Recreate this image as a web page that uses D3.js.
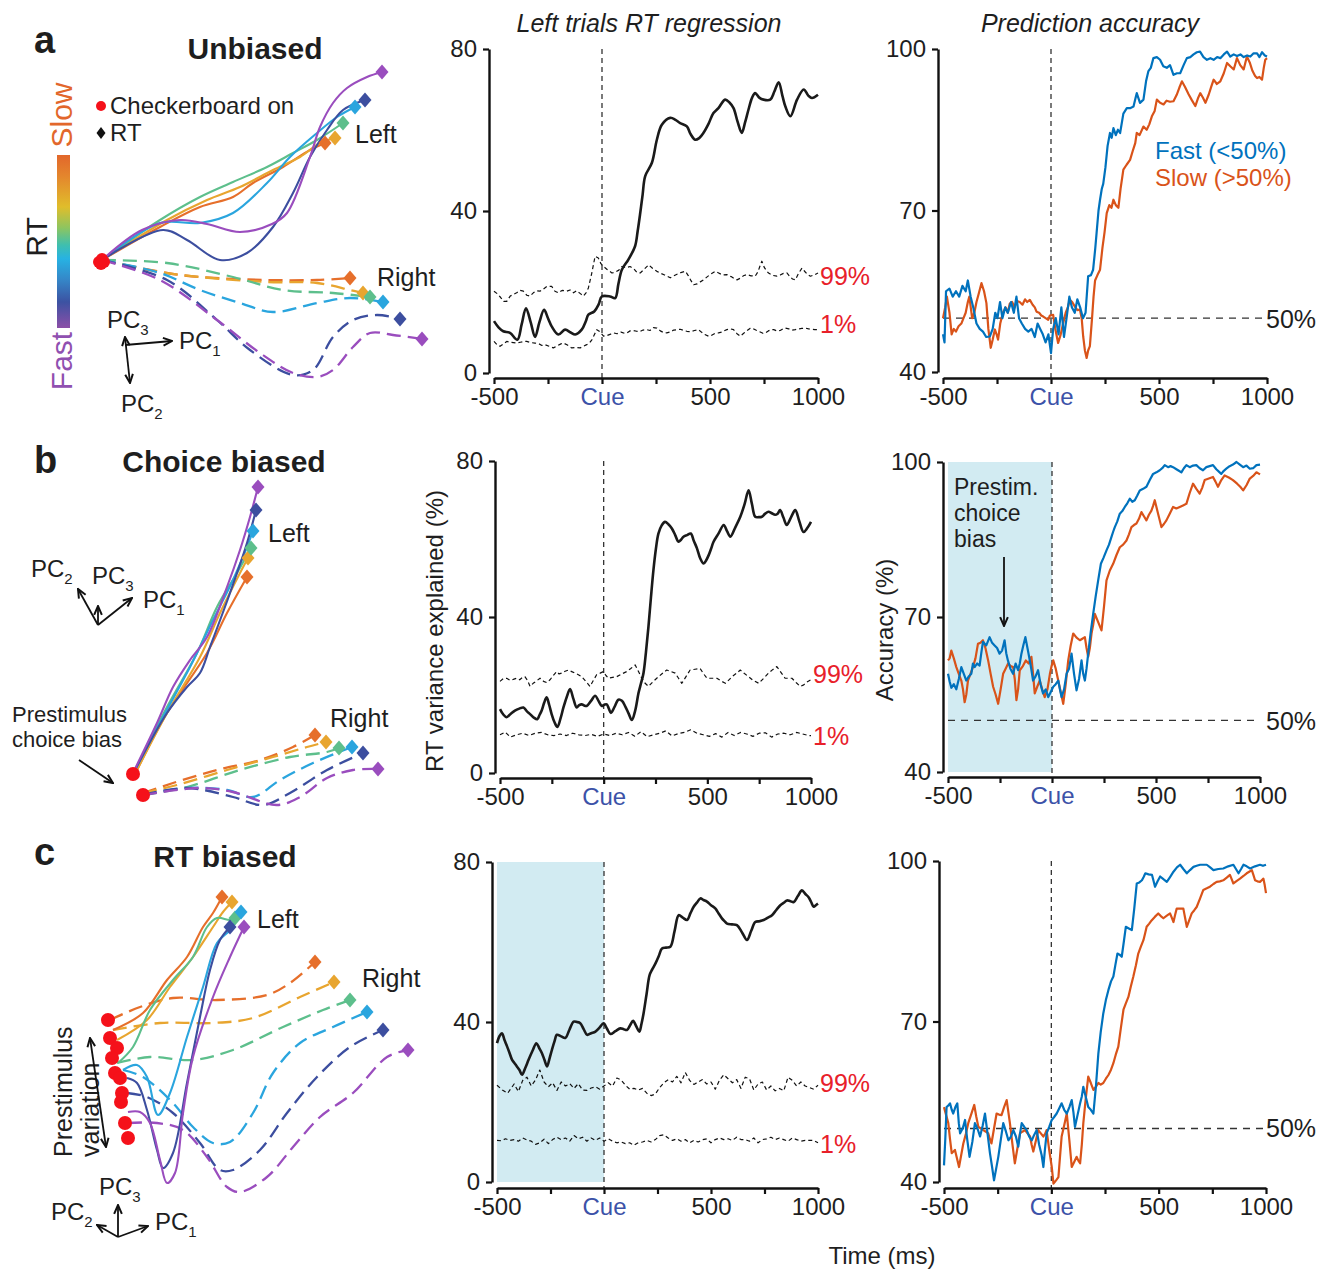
<!DOCTYPE html>
<html><head><meta charset="utf-8">
<script src="https://cdn.jsdelivr.net/npm/d3@7/dist/d3.min.js"></script>
<style>body{margin:0;background:#fff} text{font-family:"Liberation Sans",Arial,Helvetica,sans-serif;fill:#1e1e1e}</style>
</head><body><script>
// ---------------- DATA ----------------
const xTickVals = [-500,-250,0,250,500,750,1000];
const xTickLabels = ['-500','','Cue','','500','','1000'];
const regTicks = [0,40,80];
const accTicks = [40,70,100];
const rtColors = ['#e66f2b','#e8a52f','#5dbf8c','#2aa5de','#3c4e9f','#9a4dbe']; // slow -> fast

// panel a middle (RT regression, % variance)
const regA = [[-500,12.8],[-478,11.2],[-457,10.3],[-426,9.9],[-392,8.2],[-372,12],[-352,16],[-330,12.5],[-310,8.9],[-290,12.5],[-268,15.6],[-250,13.5],[-233,11.5],[-202,9.5],[-171,10.7],[-145,10],[-124,9.5],[-94,10.7],[-75,12.8],[-63,14.4],[-36,15.2],[-15,17],[-1,18.9],[37,18.9],[61,18.5],[76,22],[92,25.5],[122,28],[153,31.3],[165,35],[177,39.5],[188,44],[200,48.6],[231,51.9],[254,57.6],[277,61.3],[316,63],[340,62.5],[362,61.7],[393,60.9],[410,59],[431,57.6],[450,58],[470,59.3],[493,61.5],[516,64.2],[539,65.4],[570,67.5],[590,66.8],[609,65.4],[628,62],[647,59.3],[663,62],[678,65],[695,68],[709,69.1],[728,68],[748,67.5],[779,67.5],[798,69.5],[818,71.8],[835,68.5],[849,65.8],[872,63.4],[903,67.5],[934,70],[955,68.5],[972,67.9],[1000,68.7]];
const thrHiA = [[-500,20.2],[-483,19.5],[-470,18.7],[-455,17.7],[-441,17.7],[-425,19],[-410,19.4],[-395,19.8],[-380,20.4],[-364,20.2],[-348,19.2],[-333,19],[-318,19.8],[-302,20.3],[-287,20.2],[-272,20.7],[-255,21.4],[-233,21.4],[-218,20.2],[-202,19.8],[-185,20.4],[-163,20.2],[-148,20.5],[-132,19.8],[-118,20.3],[-100,19.6],[-86,19],[-74,19.8],[-63,21],[-48,24.5],[-32,28.8],[-17,28.4],[-5,27],[7,26.3],[25,25.5],[46,24.7],[62,24.9],[78,25.4],[92,26.3],[110,26],[130,26.3],[148,25.7],[162,24.8],[177,24.7],[195,25.6],[216,26.7],[235,25.8],[254,25.1],[272,24.6],[290,24.2],[316,23.5],[340,24.2],[365,24.8],[386,25.1],[400,24],[412,22.8],[424,21.8],[440,22],[455,22.5],[470,23],[488,23.8],[506,24.5],[524,25.1],[540,24.7],[558,24.2],[578,24.3],[598,23.8],[610,23.4],[625,23],[640,23.4],[655,24],[671,24.3],[690,24],[709,23.9],[722,25],[732,26.5],[740,27.6],[752,26],[762,25.2],[771,24.7],[790,24.1],[810,23.9],[825,24.2],[840,24.6],[856,24.7],[870,23.8],[882,23.2],[895,23],[910,24.6],[926,25.9],[940,25],[952,24.3],[965,23.9],[982,24.2],[1000,24.7]];
const thrLoA = [[-500,7.8],[-486,7],[-472,6.6],[-456,7.2],[-441,7.8],[-425,7.6],[-410,7.5],[-395,7.4],[-378,7.6],[-360,7.8],[-349,7.8],[-330,7.5],[-310,7.4],[-292,7.2],[-278,6.8],[-264,7],[-245,6.6],[-225,6.2],[-205,6.8],[-190,7.2],[-179,7.4],[-160,6.9],[-140,6.2],[-120,6.3],[-101,6.2],[-85,6.6],[-71,7],[-58,7.4],[-47,8.2],[-35,9.5],[-24,10.7],[-10,10.2],[7,9.1],[25,9.3],[40,9.6],[53,9.9],[70,9.7],[88,10.1],[105,9.8],[115,9.9],[130,10.4],[145,10.5],[161,10.3],[175,10.2],[190,10.6],[207,10.7],[222,10.5],[238,11.2],[254,11.1],[270,10.4],[285,10],[300,9.9],[318,10.2],[332,10.6],[347,10.7],[362,10.8],[378,10.5],[393,10.3],[410,10.2],[428,10.5],[447,10.7],[460,10.1],[476,9.5],[493,9.1],[508,9.3],[524,9.8],[539,9.9],[555,10.1],[565,10.4],[578,10.7],[594,10.9],[609,10.7],[625,9.7],[640,9.1],[656,9.8],[672,10.5],[685,11],[694,11.1],[712,10.6],[730,10.2],[745,9.8],[756,9.9],[770,10.4],[784,10.7],[795,10.7],[810,10.4],[825,10.5],[838,10.9],[849,11.1],[865,10.9],[880,10.6],[895,10.7],[910,10.9],[925,11],[941,11.1],[957,10.9],[972,10.8],[985,10.7],[1000,10.7]];

// panel b middle
const regB = [[-500,16.4],[-484,15],[-468,14.3],[-448,15.2],[-428,16],[-407,16.5],[-387,16.8],[-370,15.8],[-355,15.1],[-337,14.2],[-320,13.8],[-310,14.8],[-299,16],[-287,18],[-275,19.4],[-263,17.5],[-251,15.1],[-237,13],[-223,11.8],[-208,14],[-194,16.8],[-178,19.5],[-162,21.5],[-146,19],[-130,16.8],[-118,17.4],[-106,17.6],[-94,17.3],[-82,17.2],[-61,18.5],[-41,19.8],[-25,18.5],[-9,17.2],[3,17.5],[15,17.6],[25,16.5],[35,15.4],[53,17],[71,18.8],[88,18.5],[104,17.1],[120,15.3],[136,13.6],[152,16],[168,20.5],[180,23],[192,25.6],[204,31],[216,37.5],[228,45],[240,52],[252,57.5],[264,61.4],[280,63.5],[296,64.4],[312,63.8],[329,62.7],[345,61],[361,59.3],[373,59.8],[385,60.6],[402,61],[420,61.4],[435,59.5],[450,57.6],[466,55],[482,53.7],[494,54.5],[506,55.8],[518,57.5],[530,59.3],[555,61.5],[579,63.6],[595,62],[611,60.6],[635,63],[659,65.7],[680,69],[699,72.5],[715,69],[731,65.7],[747,65.6],[763,65.7],[779,66.5],[795,67],[811,66.6],[827,66.2],[839,66.5],[851,67.4],[867,65.5],[883,63.6],[903,65.5],[924,67.4],[944,64.5],[964,61.8],[982,62.8],[1000,64.4]];
const thrHiB = [[-500,23.5],[-484,24.2],[-468,24.3],[-452,23.8],[-436,24],[-420,24.3],[-405,23.9],[-392,24.5],[-380,24.7],[-368,23.8],[-355,22.2],[-340,23],[-324,23.6],[-307,24.3],[-290,23.5],[-275,23.2],[-259,23.9],[-243,25],[-227,26],[-215,25.4],[-203,25.6],[-186,26.1],[-170,26.4],[-154,26],[-138,25.6],[-122,25.2],[-106,24.7],[-86,23.5],[-66,22.2],[-50,23.7],[-34,25.2],[-17,25.6],[-1,26],[11,25],[23,24.3],[43,24.5],[63,24.7],[87,25.4],[111,26],[131,26.8],[152,27.7],[168,26],[184,24.3],[200,23],[216,22.2],[236,23.3],[256,24.3],[280,25.4],[304,26.4],[325,26],[345,25.6],[361,24.3],[377,23],[397,24.7],[417,26.4],[441,26.6],[465,26.8],[481,25.5],[498,24.3],[522,24.3],[546,24.3],[566,23.6],[587,23],[603,23.8],[619,24.7],[639,25.5],[659,26.4],[679,25.5],[699,24.7],[719,23.8],[748,23],[772,24.3],[795,25.6],[815,26.5],[835,27.3],[855,25.8],[875,24.3],[891,24.3],[908,24.3],[928,23.2],[948,22.2],[965,22.6],[980,23.3],[1000,23.9]];
const thrLoB = [[-500,9.8],[-475,10.5],[-450,9.2],[-420,9.8],[-390,10.2],[-360,9.6],[-330,10.2],[-300,10.4],[-270,9.8],[-240,9.6],[-210,10.0],[-180,9.6],[-150,10.2],[-120,9.8],[-90,9.6],[-60,9.9],[-30,9.4],[0,10.0],[30,9.6],[60,10.2],[90,9.8],[120,10.4],[150,9.4],[180,10.6],[210,9.3],[240,9.8],[270,10.2],[300,10.8],[330,9.5],[360,10.1],[390,10.4],[420,11.1],[450,10.2],[480,9.8],[510,9.4],[540,10.1],[570,9.2],[600,10.4],[630,9.6],[660,10.4],[690,10.0],[720,9.4],[750,10.2],[780,10.3],[810,9.2],[840,10.0],[870,10.2],[900,9.8],[930,10.4],[960,10.0],[990,9.6],[1000,9.6]];

// panel c middle
const regC = [[-500,34.7],[-488,36.5],[-477,37.2],[-465,35.5],[-453,33.9],[-441,32.2],[-430,30.6],[-418,29.7],[-407,28.9],[-395,28],[-383,26.8],[-368,28.5],[-352,30.6],[-334,32.8],[-316,34.7],[-303,33.5],[-290,32.2],[-278,30.5],[-266,28.9],[-255,30.8],[-243,33.1],[-231,35.2],[-220,36.8],[-200,36.4],[-181,36],[-162,38],[-142,40.1],[-126,40],[-111,39.7],[-95,38.2],[-79,36.8],[-60,37.2],[-40,37.6],[-21,38.6],[-2,39.7],[14,38.3],[30,37],[53,37.7],[76,38.4],[92,38.2],[107,38],[122,39.2],[136,40.3],[150,39],[165,37.6],[175,39.5],[185,42.2],[199,47],[213,51.7],[226,53.2],[240,54.6],[256,56.5],[271,58.4],[290,58.6],[310,58.8],[330,62.8],[349,66.7],[368,66.1],[388,65.5],[404,67.2],[419,68.8],[435,69.9],[450,70.9],[465,70.5],[481,70.1],[500,69.2],[520,68.4],[535,67.2],[551,65.9],[563,65.2],[575,64.6],[598,64.4],[621,64.2],[645,62.4],[668,60.5],[688,62.8],[707,65],[727,65.2],[746,65.5],[766,66.1],[785,66.7],[805,68],[824,69.2],[840,69.8],[855,70.4],[871,70.2],[887,70],[906,71.5],[925,72.9],[941,72],[956,71.2],[968,70],[980,68.8],[990,69.2],[1000,69.6]];
const thrHiC = [[-500,24.2],[-475,23.0],[-450,22.2],[-420,24.5],[-400,22.6],[-380,25.4],[-360,26.2],[-340,24.0],[-320,25.5],[-300,28.0],[-280,25.0],[-260,23.8],[-240,24.8],[-220,22.9],[-200,25.0],[-180,24.0],[-160,24.6],[-140,23.4],[-120,24.6],[-100,23.0],[-80,22.9],[-60,23.5],[-40,23.8],[-20,23.2],[0,24.0],[20,24.8],[40,24.0],[60,26.0],[80,25.5],[100,24.2],[120,23.2],[140,23.4],[160,23.0],[180,23.4],[200,22.2],[220,21.6],[240,22.0],[260,23.6],[280,24.8],[300,25.6],[320,25.0],[340,26.4],[360,24.8],[380,27.4],[400,25.4],[420,24.4],[440,25.0],[460,25.6],[480,24.5],[500,25.0],[520,23.2],[540,25.5],[560,26.8],[580,25.8],[600,24.8],[620,25.6],[640,23.4],[660,26.2],[680,25.8],[700,23.0],[720,24.5],[740,25.0],[760,23.0],[780,24.0],[800,22.8],[820,23.4],[840,22.8],[860,26.2],[880,25.4],[900,24.0],[920,25.0],[940,24.0],[960,23.6],[980,23.2],[1000,24.2]];
const thrLoC = [[-500,10.4],[-480,10.3],[-460,10.8],[-440,10.4],[-420,10.6],[-400,10.2],[-380,11.0],[-360,10.5],[-340,10.2],[-320,9.4],[-300,9.8],[-280,10.7],[-260,9.6],[-240,10.6],[-220,11.2],[-200,10.6],[-180,11.0],[-160,10.2],[-140,11.6],[-120,10.8],[-100,11.2],[-80,10.2],[-60,11.0],[-40,10.4],[-20,11.0],[0,10.2],[20,10.8],[40,10.2],[60,9.8],[80,10.0],[100,9.6],[120,9.8],[140,9.2],[160,9.8],[180,10.0],[200,10.4],[220,10.0],[240,10.6],[260,11.6],[280,11.8],[300,11.0],[320,10.4],[340,10.8],[360,10.2],[380,10.6],[400,9.8],[420,10.4],[440,10.0],[460,10.6],[480,10.8],[500,9.8],[520,10.6],[540,11.0],[560,10.6],[580,10.8],[600,10.4],[620,11.2],[640,10.6],[660,10.6],[680,10.2],[700,11.0],[720,9.8],[740,10.6],[760,10.8],[780,11.2],[800,10.6],[820,11.0],[840,10.6],[860,10.2],[880,11.0],[900,10.6],[920,10.2],[940,10.4],[960,10.4],[980,10.4],[1000,9.8]];

// prediction accuracy (%), fast (<50%) and slow (>50%) trials
const accFastA = [[-500,47],[-493,45.5],[-486,55],[-470,55.5],[-455,54],[-440,55],[-425,54],[-410,56],[-395,55],[-385,57],[-372,54],[-360,52],[-345,49],[-330,48],[-315,47.5],[-300,46.5],[-283,46.6],[-270,48],[-258,51],[-248,50],[-236,53],[-225,50],[-212,52],[-200,51],[-185,53],[-172,51],[-160,54],[-148,50],[-135,49],[-120,48],[-105,47.5],[-90,48],[-75,46.5],[-62,49],[-50,48],[-38,47],[-25,45.5],[-12,47],[0,43.5],[10,48],[22,50],[35,47],[48,52],[60,46.5],[72,50],[85,54],[97,52],[110,51],[122,53.5],[135,52],[148,50],[160,51],[172,57.8],[185,58],[195,59],[205,63],[211,65.8],[220,70],[227,72],[235,74],[242,75],[252,78],[262,82],[273,84.4],[281,83.5],[289,85.3],[300,84],[310,85],[320,84.4],[335,88],[351,89],[366,89],[382,89.3],[392,91],[397,91.8],[412,90],[428,90.6],[440,94],[451,95.9],[462,96.5],[474,98.3],[490,98.5],[505,98],[520,96.8],[536,96.5],[551,97],[567,95.2],[583,95.5],[598,95.5],[614,97],[629,98.3],[645,98.5],[660,99],[675,99.4],[690,99.5],[706,98.5],[722,98],[738,98.3],[753,98],[769,98.5],[784,98.3],[800,99],[815,99.5],[830,98.6],[846,99],[861,98.7],[877,99],[892,98.5],[908,98.8],[923,98.6],[938,99.2],[954,99.2],[965,98.5],[977,99.4],[990,98.8],[1000,98.6]];
const accSlowA = [[-500,50],[-490,52],[-482,54],[-470,51],[-460,47],[-450,48],[-440,47.5],[-428,48.5],[-415,49],[-405,50],[-395,51],[-385,53],[-378,54],[-365,50],[-355,51],[-345,53],[-335,54.5],[-322,56.5],[-310,55],[-299,52.8],[-290,48],[-279,44.5],[-270,46],[-260,47.9],[-252,47],[-245,46],[-235,49],[-222,51.1],[-210,52],[-200,51],[-191,52.7],[-180,53],[-168,52],[-158,53.2],[-145,53],[-132,52.5],[-120,53.5],[-110,53],[-98,53.4],[-85,52.5],[-75,52],[-67,51.2],[-55,51],[-45,50.5],[-36,50.3],[-25,50],[-13,49.7],[-5,50.5],[10,50.6],[20,48],[33,45.4],[45,47],[56,49],[68,51],[78,52],[87,53.4],[98,53],[110,52.2],[122,51.5],[134,51.6],[142,50],[149,46.6],[157,44],[165,42.6],[172,44],[180,44.8],[190,50],[197,54],[204,57],[215,58],[227,59],[238,63],[248,66],[258,69.5],[270,71],[280,70.5],[289,72],[300,71],[312,70.5],[322,74],[335,77.6],[350,78.5],[366,79.4],[378,81],[390,82.5],[397,84.4],[410,84],[428,85.6],[443,85],[455,86],[467,87.5],[480,88.5],[490,90.6],[505,90],[521,89.7],[535,90.4],[551,90.2],[567,90.3],[582,91.5],[594,92.8],[606,94],[620,93],[637,91.6],[652,90.5],[668,89.4],[680,90.8],[691,91.8],[703,91],[715,90],[730,91.5],[742,93],[753,94.3],[768,93.5],[784,94],[800,95.5],[815,97.4],[830,96.8],[846,96.2],[861,98.3],[876,97],[892,96.2],[907,98.6],[920,97.5],[932,96],[945,95],[954,94.6],[965,94.8],[977,94.3],[985,96.5],[992,98],[1000,98.3]];
const accFastB = [[-500,59],[-492,57.5],[-484,56.3],[-472,57],[-460,56],[-448,58],[-436,60.3],[-424,59],[-412,57.7],[-400,58.5],[-388,59],[-380,61],[-372,60.3],[-360,61],[-348,60.6],[-340,63],[-332,65.2],[-316,64.5],[-300,66.1],[-288,65],[-276,64.5],[-264,64],[-252,62.9],[-240,63.5],[-228,65.5],[-220,63],[-212,61.6],[-200,60],[-187,59],[-175,61],[-163,59.7],[-155,61],[-147,62.9],[-138,64.5],[-128,66.1],[-118,64],[-110,62.3],[-100,60],[-91,57.7],[-79,58.5],[-67,59.7],[-55,57],[-43,55.2],[-30,56],[-18,54.5],[-6,55.5],[6,56.5],[18,57],[30,57.7],[38,56],[46,54.5],[58,56],[70,59],[82,60],[94,62.9],[106,59],[118,55.8],[130,58],[142,61.6],[150,59],[158,57.7],[166,60],[174,62.9],[186,67],[198,70.6],[210,74],[222,77.1],[235,80.3],[248,81.5],[262,82.9],[274,84],[286,85.5],[294,86.5],[302,87.4],[314,88.5],[326,90],[338,90.5],[350,91.3],[362,92],[374,92.9],[386,92.3],[398,92.6],[410,93.5],[422,94.5],[438,94.8],[454,95.2],[470,96.5],[486,97.7],[502,98],[518,98.4],[530,98.8],[542,99.4],[558,99],[570,99.2],[582,99],[598,98.6],[610,98.3],[622,98],[634,98.8],[646,99.4],[662,99],[678,99.3],[694,99.4],[710,98.8],[726,98.4],[742,99],[758,99.2],[774,99.4],[790,98.6],[806,98],[814,97.7],[826,98.3],[838,98.7],[854,99.2],[870,99.5],[887,100],[903,99.5],[919,99],[935,99.3],[951,98.7],[967,98.8],[983,99.4],[1000,99.5]];
const accSlowB = [[-500,61.6],[-492,62],[-484,63.5],[-472,62],[-460,60.3],[-448,59],[-436,57.7],[-428,56],[-420,53.5],[-412,55],[-404,57.7],[-392,59],[-380,60.3],[-368,62],[-356,64.8],[-344,65],[-332,65.5],[-320,64],[-307,61.6],[-295,59],[-283,56.5],[-271,55],[-259,53.2],[-247,56],[-235,59],[-223,60],[-211,61],[-199,60.5],[-187,60.3],[-179,58],[-171,53.9],[-163,56],[-155,59.7],[-140,60.5],[-126,61.6],[-112,61],[-99,62.3],[-91,59],[-83,55.2],[-71,56.5],[-59,57.7],[-47,56],[-35,54.5],[-22,56],[-10,59],[-2,60.5],[6,61.6],[18,60],[30,57.7],[42,55.5],[54,53.2],[66,57],[78,61.6],[90,64.5],[102,66.8],[118,66],[134,65.5],[146,65.8],[158,66.1],[166,64],[174,62.3],[182,64],[190,66.8],[198,68.5],[206,70.6],[222,69],[238,67.4],[250,72],[262,77.1],[278,79],[294,80.3],[310,82],[326,83.5],[342,84],[358,84.8],[370,86],[382,87.4],[394,87.8],[406,88.1],[418,89],[430,90.3],[442,89.5],[454,88.7],[466,89.8],[478,90.6],[486,91.5],[494,92.6],[510,90],[526,87.4],[538,88],[550,88.7],[566,90],[582,91.3],[598,91],[614,91.3],[630,91.6],[646,91.9],[662,94],[678,95.8],[694,94.8],[710,93.9],[722,95],[734,96.5],[754,96.8],[774,97.1],[786,96.2],[798,95.2],[814,96.5],[830,97.4],[850,97],[870,96.5],[890,95.8],[905,95.2],[919,94.5],[935,95.5],[951,96.8],[967,97.3],[983,98],[992,97.8],[1000,97.6]];
const accFastC = [[-500,43.1],[-494,48],[-488,54],[-480,54.3],[-472,54.7],[-464,53.5],[-457,52.8],[-447,54],[-438,54.7],[-431,51],[-425,49.1],[-413,50],[-402,51.6],[-392,48],[-381,44.7],[-368,47.5],[-356,51],[-344,50],[-332,48.5],[-320,50.5],[-309,52.8],[-297,49],[-286,45.4],[-276,42.8],[-267,40.3],[-257,42.5],[-247,44.7],[-235,48],[-224,51],[-212,49.5],[-200,47.8],[-188,48.5],[-177,49.7],[-165,48.5],[-154,46.6],[-146,49],[-138,51],[-126,50.3],[-115,49.7],[-103,48.5],[-91,47.8],[-80,48.8],[-68,49.7],[-57,47],[-45,45],[-37,42.8],[-30,46],[-22,49.1],[-10,50.3],[2,51.6],[14,52.2],[25,52.8],[37,53.8],[48,54.7],[60,53.5],[72,52.8],[84,54],[95,55.3],[103,53],[110,50.3],[122,52.5],[134,54.7],[142,56],[149,57.8],[160,56],[172,54],[184,53.5],[196,52.8],[208,58],[219,64],[230,68],[242,71.5],[254,74],[266,75.9],[278,77.5],[289,78.4],[298,80.5],[308,82.7],[318,82.5],[328,82.1],[338,85],[347,87.7],[361,87.4],[375,87.1],[386,91],[398,95.8],[410,96],[422,96.4],[430,97],[438,97.7],[453,97.5],[469,97.4],[476,96.3],[483,95.2],[495,96.2],[507,97.1],[522,96.6],[538,96.1],[553,97],[569,98],[585,98.8],[600,99.3],[615,98.5],[631,97.7],[646,98.3],[662,98.9],[677,99.1],[693,99.3],[708,99.3],[724,99.3],[740,98.8],[755,98.3],[778,98.5],[801,98.6],[824,99],[848,99.3],[860,98.5],[872,97.7],[884,98.5],[895,99.3],[910,99],[926,98.6],[949,99],[972,99.3],[986,99.1],[1000,99.3]];
const accSlowC = [[-500,54],[-490,52.5],[-480,51],[-472,48],[-464,45.4],[-456,45.7],[-449,46],[-440,44.5],[-430,42.8],[-420,45],[-410,47.2],[-398,49],[-387,51],[-373,52.7],[-359,54.4],[-350,52.3],[-340,50.3],[-328,50],[-317,49.7],[-305,49.4],[-294,49.1],[-286,48],[-279,47.2],[-267,50],[-255,52.8],[-244,52.6],[-232,52.5],[-220,54],[-208,55.3],[-200,53],[-193,51],[-181,47],[-170,43.5],[-158,46.3],[-146,49.1],[-135,49.4],[-123,49.7],[-111,49.1],[-99,48.5],[-92,47],[-84,45.7],[-72,47.7],[-61,49.7],[-49,49.1],[-37,48.5],[-29,49],[-22,49.7],[-10,46],[2,42.8],[10,39.7],[22,40.3],[33,40.9],[40,44.5],[48,48.5],[60,50.6],[72,52.8],[84,47.8],[95,42.8],[107,43.8],[118,44.7],[126,44],[134,43.5],[142,47],[149,51],[160,55.5],[172,59.7],[184,58.5],[196,57.2],[208,57.8],[219,58.5],[230,58.2],[242,58.5],[254,59.3],[266,60],[278,61],[289,62.2],[300,63.8],[312,65.3],[324,68.8],[336,72.2],[347,73.4],[359,74.6],[370,76.5],[382,78.4],[394,80.5],[405,82.7],[417,84],[429,85.2],[437,86.5],[444,87.7],[456,88.3],[467,88.9],[483,89.6],[498,90.2],[510,89.7],[522,89.3],[538,89.8],[553,90.2],[561,89.4],[569,88.6],[577,90],[584,91.1],[600,91.1],[615,91.1],[623,89.4],[631,87.7],[643,89],[654,90.2],[666,90.8],[677,91.4],[693,93],[708,94.6],[724,94.9],[739,95.2],[755,95.7],[770,96.1],[785,96.2],[801,96.4],[817,96.9],[832,97.4],[840,96.6],[848,95.8],[864,96.3],[879,96.7],[895,97.2],[910,97.7],[922,98],[934,98.3],[942,97.3],[949,96.4],[960,96.2],[972,96.1],[980,96.4],[988,96.7],[994,95.5],[1000,94]];

// neural trajectories projected on PCs (units relative to trajectory start, y up)
// order: slow -> fast (orange, yellow, green, light blue, dark blue, purple)
const trajLeftA = [
  [[0,0],[58,33],[98,53],[131,63],[151,77],[181,93],[208,110],[223,117]],
  [[0,0],[65,40],[105,60],[138,73],[171,90],[198,103],[218,117],[233,122]],
  [[0,0],[58,40],[98,63],[131,78],[165,93],[191,107],[215,120],[241,137]],
  [[0,0],[58,37],[98,37],[131,47],[165,77],[188,103],[215,127],[235,143],[253,153]],
  [[0,0],[61,30],[85,20],[118,0],[145,7],[171,33],[191,67],[208,103],[225,130],[241,150],[263,160]],
  [[0,0],[40,30],[78,40],[105,36],[138,28],[170,36],[185,47],[208,103],[218,133],[231,157],[245,172],[265,183],[280,188]]
];
const trajRightA = [
  [[0,0],[65,-13],[98,-17],[165,-20],[215,-20],[248,-18]],
  [[0,0],[58,-12],[98,-17],[165,-22],[215,-23],[248,-30],[261,-33]],
  [[0,0],[65,-3],[131,-17],[181,-30],[231,-33],[268,-37]],
  [[0,0],[58,-13],[98,-30],[138,-43],[171,-52],[215,-43],[248,-38],[281,-42]],
  [[0,0],[65,-20],[115,-60],[148,-90],[191,-115],[211,-110],[231,-77],[251,-60],[275,-55],[298,-59]],
  [[0,0],[58,-20],[115,-60],[158,-93],[191,-113],[215,-117],[231,-110],[251,-87],[268,-73],[291,-75],[320,-79]]
];
const startsA = [[-3,-2],[0,1],[2,-2],[-1,-4]];

const trajLeftB = [
  [[4,5],[34,62],[74,122],[94,162],[114,198]],
  [[4,5],[34,62],[67,118],[87,162],[107,202],[115,217]],
  [[2,5],[34,68],[64,122],[84,168],[104,202],[118,227]],
  [[2,5],[30,58],[57,108],[80,155],[100,195],[114,228],[120,244]],
  [[2,5],[34,62],[54,88],[67,102],[77,128],[97,182],[114,232],[123,265]],
  [[0,2],[24,52],[40,88],[57,115],[74,138],[94,188],[107,225],[117,258],[125,288]]
];
const trajRightB = [
  [[10,-18],[40,-8],[84,5],[127,15],[160,28],[182,40]],
  [[10,-18],[44,-10],[94,5],[140,18],[174,28],[193,33]],
  [[10,-20],[54,-12],[107,5],[157,18],[194,23],[206,27]],
  [[10,-20],[54,-13],[94,-15],[120,-22],[147,-5],[180,12],[219,28]],
  [[10,-20],[54,-13],[100,-22],[130,-30],[157,-18],[194,5],[230,22]],
  [[10,-20],[67,-13],[100,-17],[144,-30],[167,-22],[194,-3],[220,5],[245,6]]
];
const startsB = [[0,1],[10,-20]];

const trajLeftC = [
  [[-7,50],[23,67],[47,100],[67,123],[83,153],[93,167],[102,183]],
  [[-3,40],[27,60],[50,93],[73,123],[93,153],[103,168],[112,178]],
  [[-2,17],[13,33],[30,70],[53,100],[73,123],[87,153],[97,162],[110,160],[115,162]],
  [[3,10],[17,15],[27,3],[38,-35],[50,-13],[67,43],[83,93],[97,137],[110,150],[121,168]],
  [[7,2],[17,-3],[27,-30],[37,-70],[43,-88],[53,-73],[67,-3],[80,63],[90,110],[100,140],[110,153]],
  [[8,-32],[20,-32],[30,-43],[40,-80],[47,-103],[55,-93],[63,-33],[73,23],[93,83],[110,123],[124,153]]
];
const trajRightC = [
  [[-10,60],[20,73],[53,82],[97,80],[147,85],[170,97],[195,118]],
  [[-7,50],[40,57],[93,57],[133,62],[180,83],[214,98]],
  [[-3,17],[30,23],[73,20],[113,30],[163,53],[203,70],[230,80]],
  [[3,10],[23,3],[53,-23],[73,-47],[93,-63],[110,-62],[133,-33],[153,7],[180,37],[213,53],[247,68]],
  [[7,-13],[27,-17],[53,-33],[80,-63],[100,-90],[113,-90],[140,-70],[167,-33],[197,3],[230,33],[263,50]],
  [[8,-43],[37,-43],[63,-50],[87,-77],[107,-107],[120,-112],[147,-97],[173,-67],[200,-37],[233,-13],[267,23],[288,30]]
];
const startsC = [[-12,60],[-10,42],[-3,32],[-8,22],[-5,7],[0,2],[2,-13],[1,-22],[5,-43],[8,-58]];

// ---------------- DRAWING ----------------
const svg = d3.select('body').append('svg').attr('width',1321).attr('height',1270);
const defs = svg.append('defs');
defs.append('marker').attr('id','arr').attr('viewBox','0 0 10 10').attr('refX',9).attr('refY',5)
  .attr('markerWidth',11).attr('markerHeight',11).attr('markerUnits','userSpaceOnUse').attr('orient','auto-start-reverse')
  .append('path').attr('d','M1,1.5L9,5L1,8.5').attr('fill','none').attr('stroke','#111').attr('stroke-width',1.8);
const grad = defs.append('linearGradient').attr('id','rtgrad').attr('x1',0).attr('x2',0).attr('y1',0).attr('y2',1);
[[0,'#e2672b'],[0.12,'#e4852d'],[0.3,'#e0bd2b'],[0.42,'#8ec55f'],[0.52,'#3fbfae'],[0.6,'#27b2e3'],[0.72,'#3587c8'],[0.85,'#3c52a2'],[1,'#8c4fa8']]
  .forEach(([o,c])=>grad.append('stop').attr('offset',o).attr('stop-color',c));

function txt(x,y,s,o={}){
  const t=svg.append('text').attr('x',x).attr('y',y).text(s)
    .attr('font-size',o.fs||24).attr('text-anchor',o.anchor||'start');
  if(o.fill) t.style('fill',o.fill);
  if(o.weight) t.attr('font-weight',o.weight);
  if(o.italic) t.attr('font-style','italic');
  return t;
}
function rtxt(x,y,s,o={}){
  const t=svg.append('text').attr('transform',`translate(${x},${y}) rotate(-90)`).text(s)
    .attr('font-size',o.fs||24).attr('text-anchor',o.anchor||'middle');
  if(o.fill) t.style('fill',o.fill);
  return t;
}
function pcLabel(x,y,n){
  const t=svg.append('text').attr('x',x).attr('y',y).attr('font-size',24);
  t.append('tspan').text('PC');
  t.append('tspan').text(n).attr('font-size',15).attr('dy',7);
}
function arrow(x1,y1,x2,y2,both){
  const l=svg.append('line').attr('x1',x1).attr('y1',y1).attr('x2',x2).attr('y2',y2)
    .attr('stroke','#111').attr('stroke-width',1.8).attr('marker-end','url(#arr)');
  if(both) l.attr('marker-start','url(#arr)');
}

function tsPanel(p){
  const x=d3.scaleLinear().domain([-500,1000]).range([p.x0,p.x1]);
  const y=d3.scaleLinear().domain(p.dom).range([p.yBot,p.yTop]);
  const g=svg.append('g');
  if(p.shade) g.append('rect').attr('x',x(-500)).attr('y',y(p.dom[1])).attr('width',x(0)-x(-500))
      .attr('height',y(p.dom[0])-y(p.dom[1])).attr('fill','#d2ebf2');
  g.append('line').attr('x1',x(0)).attr('x2',x(0)).attr('y1',y(p.dom[1])).attr('y2',p.axY)
    .attr('stroke','#333').attr('stroke-width',1.3).attr('stroke-dasharray','5,4');
  const ya=g.append('g').attr('transform',`translate(${p.axX},0)`)
    .call(d3.axisLeft(y).tickValues(p.ticks).tickSize(6).tickSizeOuter(0).tickPadding(6));
  const xa=g.append('g').attr('transform',`translate(0,${p.axY})`)
    .call(d3.axisBottom(x).tickValues(xTickVals).tickSize(6).tickSizeOuter(0).tickPadding(4)
      .tickFormat((d,i)=>xTickLabels[i]));
  [ya,xa].forEach(a=>{
    a.select('.domain').attr('stroke','#111').attr('stroke-width',2.4);
    a.selectAll('.tick line').attr('stroke','#111').attr('stroke-width',2.2);
    a.selectAll('.tick text').attr('font-size',24).attr('font-family','"Liberation Sans",Arial,sans-serif').style('fill','#1e1e1e');
  });
  xa.selectAll('.tick text').filter(d=>d===0).style('fill','#3c52a8');
  return {x,y,g};
}
function drawSeries(P,data,o){
  const line=d3.line().x(d=>P.x(d[0])).y(d=>P.y(d[1])).curve(o.curve||d3.curveLinear);
  const pth=P.g.append('path').datum(data).attr('d',line).attr('fill','none')
    .attr('stroke',o.color).attr('stroke-width',o.w||2).attr('stroke-linejoin','round');
  if(o.dash) pth.attr('stroke-dasharray',o.dash);
}

// ---- middle column ----
const regPanels = [
  {x0:494,x1:818,yTop:49,yBot:373,axX:489,axY:378,dom:[0,80],ticks:regTicks,reg:regA,hi:thrHiA,lo:thrLoA},
  {x0:500,x1:811,yTop:461,yBot:773,axX:495,axY:778,dom:[0,80],ticks:regTicks,reg:regB,hi:thrHiB,lo:thrLoB},
  {x0:497,x1:818,yTop:862,yBot:1182,axX:492,axY:1188,dom:[0,80],ticks:regTicks,reg:regC,hi:thrHiC,lo:thrLoC,shade:true}
];
const lblY = [[285,333],[683,745],[1092,1153]];
regPanels.forEach((p,i)=>{
  const P=tsPanel(p);
  drawSeries(P,p.hi,{color:'#111',w:1.2,dash:'4,3'});
  drawSeries(P,p.lo,{color:'#111',w:1.2,dash:'4,3'});
  drawSeries(P,p.reg,{color:'#1a1a1a',w:2.6,curve:d3.curveCatmullRom.alpha(0.5)});
  txt(p.x1+2,lblY[i][0],'99%',{fill:'#e8202a',fs:25});
  txt(p.x1+2,lblY[i][1],'1%',{fill:'#e8202a',fs:25});
});

// ---- right column ----
const accPanels = [
  {x0:943,x1:1267,yTop:49,yBot:372,axX:938,axY:378,dom:[40,100],ticks:accTicks,f:accFastA,s:accSlowA},
  {x0:948,x1:1260,yTop:462,yBot:772,axX:943,axY:777,dom:[40,100],ticks:accTicks,f:accFastB,s:accSlowB,shade:true},
  {x0:944,x1:1266,yTop:861,yBot:1182,axX:939,axY:1188,dom:[40,100],ticks:accTicks,f:accFastC,s:accSlowC}
];
const fiftyY=[328,730,1137];
accPanels.forEach((p,i)=>{
  const P=tsPanel(p);
  P.g.append('line').attr('x1',P.x(-500)).attr('x2',P.x(1000)).attr('y1',P.y(50)).attr('y2',P.y(50))
    .attr('stroke','#333').attr('stroke-width',1.3).attr('stroke-dasharray','7,6');
  drawSeries(P,p.s,{color:'#D95319',w:2.2});
  drawSeries(P,p.f,{color:'#0072BD',w:2.2});
  txt(1266,fiftyY[i],'50%',{fs:25});
});
txt(1155,159,'Fast (<50%)',{fill:'#0072BD',fs:24});
txt(1155,186,'Slow (>50%)',{fill:'#D95319',fs:24});
txt(954,495,'Prestim.',{fs:23});
txt(954,521,'choice',{fs:23});
txt(954,547,'bias',{fs:23});
arrow(1004,557,1004,626);

// titles & axis labels
txt(649,32,'Left trials RT regression',{fs:25,italic:true,anchor:'middle'});
txt(1090,32,'Prediction accuracy',{fs:25,italic:true,anchor:'middle'});
rtxt(443,631,'RT variance explained (%)',{fs:24});
rtxt(893,630,'Accuracy (%)',{fs:24});
txt(882,1264,'Time (ms)',{fs:24,anchor:'middle'});

// panel letters & left titles
txt(34,53,'a',{fs:38,weight:'bold'});
txt(34,473,'b',{fs:38,weight:'bold'});
txt(34,865,'c',{fs:38,weight:'bold'});
txt(255,59,'Unbiased',{fs:30,weight:'bold',anchor:'middle'});
txt(224,472,'Choice biased',{fs:30,weight:'bold',anchor:'middle'});
txt(225,867,'RT biased',{fs:30,weight:'bold',anchor:'middle'});

// ---- left column: trajectories ----
const diamond='M0,-7.5L6.5,0L0,7.5L-6.5,0Z';
function trajPanel(ox,oy,left,right,starts,rDot,dash){
  const sx=d3.scaleLinear().domain([0,100]).range([ox,ox+100]);
  const sy=d3.scaleLinear().domain([0,100]).range([oy,oy-100]);
  const line=d3.line().x(d=>sx(d[0])).y(d=>sy(d[1])).curve(d3.curveCatmullRom.alpha(0.5));
  const g=svg.append('g');
  const draw=(set,isDash)=>set.forEach((tr,i)=>{
    const p=g.append('path').datum(tr).attr('d',line).attr('fill','none').attr('stroke',rtColors[i]).attr('stroke-width',2.1);
    if(isDash) p.attr('stroke-dasharray',dash).attr('stroke-width',2.3);
  });
  draw(right,true); draw(left,false);
  [...right,...left].forEach((tr,k)=>{
    const i=k%6, e=tr[tr.length-1];
    g.append('path').attr('d',diamond).attr('transform',`translate(${sx(e[0])},${sy(e[1])})`).attr('fill',rtColors[i]);
  });
  g.selectAll('circle.s').data(starts).enter().append('circle').attr('cx',d=>sx(d[0])).attr('cy',d=>sy(d[1]))
    .attr('r',rDot).attr('fill','#f5111a');
}
trajPanel(102,260,trajLeftA,trajRightA,startsA,6,'14,7');
trajPanel(133,775,trajLeftB,trajRightB,startsB,7,'14,7');
trajPanel(120,1080,trajLeftC,trajRightC,startsC,7,'14,7');

// panel a legend & colorbar
svg.append('rect').attr('x',57).attr('y',155).attr('width',13).attr('height',173).attr('fill','url(#rtgrad)');
rtxt(72,115,'Slow',{fs:30,fill:'#e2672b'});
rtxt(72,361,'Fast',{fs:30,fill:'#9050b0'});
rtxt(47,237,'RT',{fs:30});
svg.append('circle').attr('cx',101).attr('cy',106).attr('r',5).attr('fill','#f5111a');
txt(110,114,'Checkerboard on',{fs:24});
svg.append('path').attr('d','M0,-6L4.5,0L0,6L-4.5,0Z').attr('transform','translate(101,133)').attr('fill','#111');
txt(110,141,'RT',{fs:24});
txt(355,143,'Left',{fs:25});
txt(377,286,'Right',{fs:25});
arrow(125,345,172,341);
arrow(125,337,130,383,true);
pcLabel(107,328,'3'); pcLabel(179,349,'1'); pcLabel(121,412,'2');

// panel b annotations
txt(268,542,'Left',{fs:25});
txt(330,727,'Right',{fs:25});
txt(12,722,'Prestimulus',{fs:22});
txt(12,747,'choice bias',{fs:22});
arrow(79,760,113,783);
arrow(98,625,132,598);
arrow(98,625,78,589);
arrow(98,625,98,606);
pcLabel(31,577,'2'); pcLabel(92,584,'3'); pcLabel(143,608,'1');

// panel c annotations
txt(257,928,'Left',{fs:25});
txt(362,987,'Right',{fs:25});
rtxt(72,1157,'Prestimulus',{fs:25,anchor:'start'});
rtxt(99,1157,'variation',{fs:25,anchor:'start'});
arrow(90,1038,106,1147,true);
arrow(118,1237,118,1205);
arrow(118,1237,97,1225);
arrow(118,1237,148,1226);
pcLabel(99,1195,'3'); pcLabel(51,1220,'2'); pcLabel(155,1230,'1');
</script></body></html>
